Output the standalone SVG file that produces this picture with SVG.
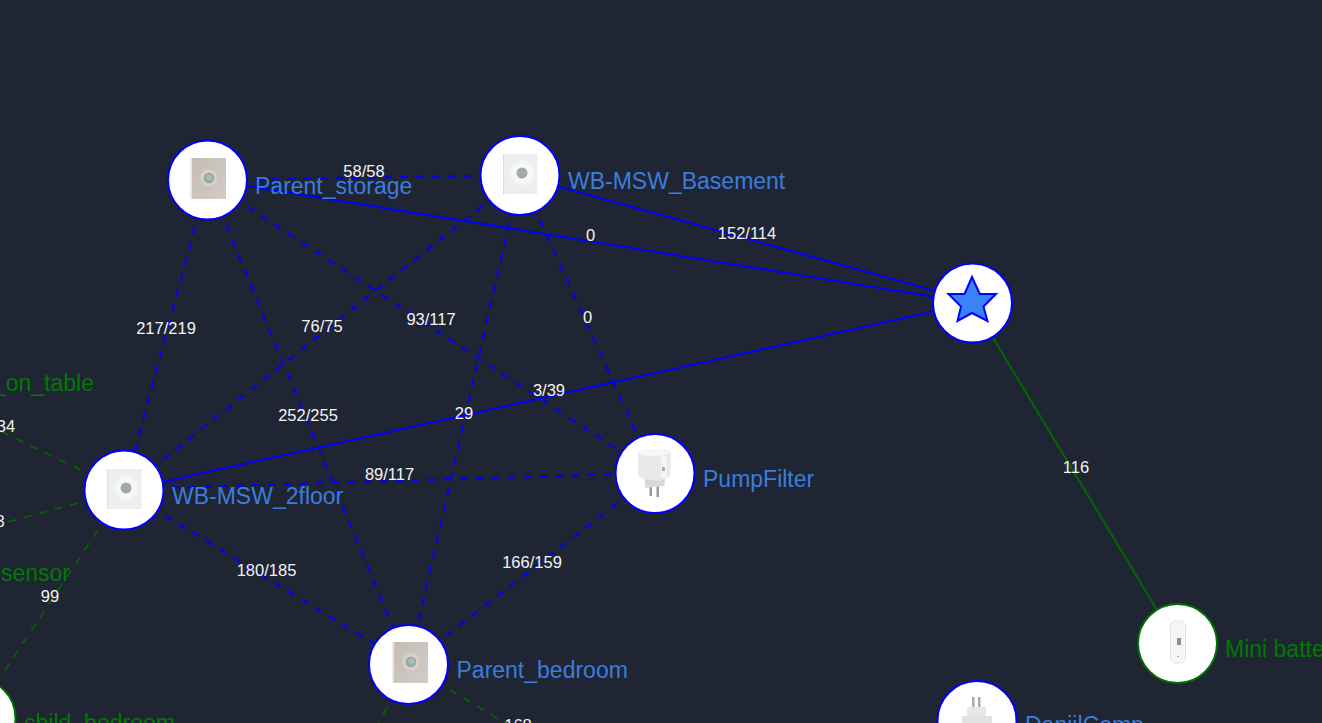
<svg xmlns="http://www.w3.org/2000/svg" width="1322" height="723" viewBox="0 0 1322 723">
<style>
.bl{stroke:#0000ff;stroke-width:2;fill:none}
.d{stroke-dasharray:8 8}
.gr{stroke:#006a00;stroke-width:2;fill:none}
.gd{stroke-width:1.5}
.lb{font:16.5px "Liberation Sans",Arial,sans-serif;fill:#f4f4f4;text-anchor:middle}
.n{font:23px "Liberation Sans",Arial,sans-serif;fill:#3b7ddd}
.g{fill:#007a00}
.c{fill:#fff;stroke:#0000ff;stroke-width:2}
.cg{fill:#fff;stroke:#007000;stroke-width:2}
</style>
<defs>
<filter id="b" x="-10%" y="-10%" width="120%" height="120%"><feGaussianBlur stdDeviation="0.7"/></filter>
<linearGradient id="pa" x1="0" y1="0" x2="1" y2="1"><stop offset="0" stop-color="#c4bcb5"/><stop offset="1" stop-color="#d2ccc6"/></linearGradient>
<radialGradient id="halo"><stop offset="0" stop-color="#fbfbfb"/><stop offset="0.7" stop-color="#f6f7f8"/><stop offset="1" stop-color="#eceef0"/></radialGradient>
<radialGradient id="hb"><stop offset="0.55" stop-color="#e4d8ce"/><stop offset="1" stop-color="#c9c2bb"/></radialGradient>
<g id="beige" filter="url(#b)"><rect x="-18" y="-21" width="3" height="41" fill="#e8e8e4"/><rect x="-16" y="-21" width="34" height="41" fill="url(#pa)"/><circle cx="1" cy="-1" r="10" fill="url(#hb)"/><circle cx="1" cy="-1" r="5.500" fill="#98a9a9"/><circle cx="1.500" cy="-1.500" r="3" fill="#a9bcbc"/></g>
<g id="white" filter="url(#b)"><rect x="-17" y="-20" width="1.500" height="40" fill="#d0e0ee"/><rect x="-15.500" y="-20" width="33" height="40" fill="#eceef0"/><circle cx="2" cy="-1" r="14" fill="url(#halo)"/><circle cx="2" cy="-1" r="5.500" fill="#a2aaa8"/></g>
</defs>
<rect width="1322" height="723" fill="#1f2533"/>
<g id="connectors">
<path class="bl d" d="M207.500 180.500L520 175"/>
<path class="bl" d="M207.500 179.500L972 303"/>
<path class="bl" d="M520 176L972 301"/>
<path class="bl" d="M124 490.500L972 303"/>
<path class="bl d" d="M207.500 180.500L124 490.500"/>
<path class="bl d" d="M207.500 180.500L408.500 665"/>
<path class="bl d" d="M207.500 180.500L655 474"/>
<path class="bl d" d="M520 176L124 490.500"/>
<path class="bl d" d="M520 176L408.500 665"/>
<path class="bl d" d="M520 176L655 474"/>
<path class="bl d" d="M124 489L655 473"/>
<path class="bl d" d="M124 490.500L408.500 665"/>
<path class="bl d" d="M655 474L408.500 665"/>
<path class="gr" d="M972 303L1177.500 644"/>
<path class="gr gd d" d="M124 490.500L0 431"/>
<path class="gr gd d" d="M124 490.500L0 524"/>
<path class="gr gd d" d="M124 490.500L-10 693"/>
<path class="gr gd d" d="M408.500 665L520 732"/>
<path class="gr gd d" d="M408.500 665L376 729"/>
<text class="lb" x="364" y="177">58/58</text>
<text class="lb" x="590.500" y="241">0</text>
<text class="lb" x="747" y="239">152/114</text>
<text class="lb" x="166" y="334">217/219</text>
<text class="lb" x="322" y="332">76/75</text>
<text class="lb" x="431" y="325">93/117</text>
<text class="lb" x="587.500" y="323">0</text>
<text class="lb" x="549" y="396">3/39</text>
<text class="lb" x="308" y="421">252/255</text>
<text class="lb" x="464" y="419">29</text>
<text class="lb" x="389.500" y="480">89/117</text>
<text class="lb" x="1076" y="473">116</text>
<text class="lb" x="266.500" y="576">180/185</text>
<text class="lb" x="532" y="568">166/159</text>
<text class="lb" x="50" y="602">99</text>
<text class="lb" x="6" y="432">34</text>
<text class="lb" x="0" y="527">8</text>
<text class="lb" x="518" y="731">168</text>
</g>
<g id="n-parent-storage"><circle class="c" cx="207.500" cy="180" r="39.500"/><use href="#beige" x="208" y="179"/><text class="n" x="255" y="194">Parent_storage</text></g>
<g id="n-basement"><circle class="c" cx="520" cy="175.500" r="39.500"/><use href="#white" x="520" y="174"/><text class="n" x="568" y="189">WB-MSW_Basement</text></g>
<g id="n-star"><circle class="c" cx="972.500" cy="303" r="39.500"/><path d="M972 277L979.800 294 996 294 983.500 306.500 987.500 321 972 313 957.500 321 961 306.500 948.500 294 964.500 294Z" fill="#3b82f6" stroke="#0000ff" stroke-width="2"/></g>
<g id="n-2floor"><circle class="c" cx="124" cy="490" r="39.500"/><use href="#white" x="124" y="489"/><text class="n" x="172" y="504">WB-MSW_2floor</text></g>
<g id="n-pump"><circle class="c" cx="655" cy="473.500" r="39.500"/><g filter="url(#b)"><rect x="649.500" y="485" width="2.500" height="11" fill="#9a9a9a"/><rect x="656.500" y="485" width="2.500" height="12" fill="#9a9a9a"/><path d="M644 472L665 472 664.500 486 645.500 488Z" fill="#d8d9da"/><path d="M638 453L645 449 668 449 671 453 670 476 660 481 643 479 638 475Z" fill="#e8e9ea"/><path d="M638 453L645 449 668 449 671 453 660 456 644 456Z" fill="#f6f6f7"/><rect x="661" y="456" width="6" height="22" fill="#f4f4f5"/><rect x="662" y="467" width="3" height="4" fill="#b0b0b0"/></g><text class="n" x="703" y="487">PumpFilter</text></g>
<g id="n-bedroom"><circle class="c" cx="408.500" cy="664.500" r="39.500"/><use href="#beige" x="410" y="663"/><text class="n" x="456.500" y="678">Parent_bedroom</text></g>
<g id="n-mini"><circle class="cg" cx="1177.500" cy="643.500" r="39.500"/><g filter="url(#b)"><rect x="1170.500" y="621" width="15" height="42" rx="5" fill="#f6f6f7" stroke="#e2e2e4"/><rect x="1177" y="638" width="4" height="7" fill="#909090"/><rect x="1177" y="656" width="2" height="1" fill="#f09090"/></g><text class="n g" x="1225" y="657">Mini battery</text></g>
<g id="n-daniil"><circle class="c" cx="977" cy="720.500" r="39.500"/><g filter="url(#b)"><rect x="972" y="697" width="2.500" height="12" fill="#aaa"/><rect x="978" y="697" width="2.500" height="12" fill="#aaa"/><rect x="967" y="707" width="19" height="12" fill="#e8e8e8"/><rect x="962" y="716" width="30" height="10" fill="#e2e2e2"/></g><text class="n" x="1025" y="733">DaniilComp</text></g>
<g id="n-child"><circle class="cg" cx="-24" cy="718" r="39.500"/><text class="n g" x="24" y="731">child_bedroom</text></g>
<g id="n-on-table"><text class="n g" x="94" y="391" text-anchor="end">_on_table</text></g>
<g id="n-sensor"><text class="n g" x="1" y="581">sensor</text></g>
</svg>
